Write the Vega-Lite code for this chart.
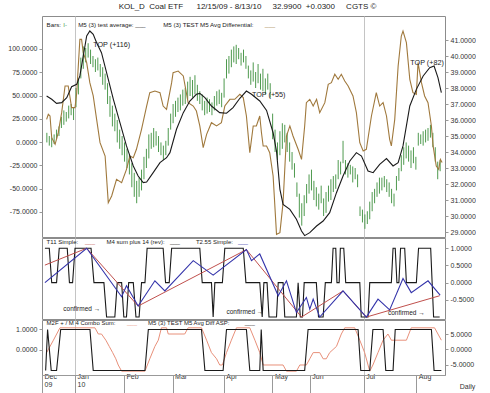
{
"$schema": "https://vega.github.io/schema/vega-lite/v6.json",
"padding": {"left": 7, "top": 2, "right": 0, "bottom": 0},
"background": "white",
"spacing": 1,
"bounds": "flush",
"title": {"text": "KOL_D\u00a0\u00a0Coal ETF\u00a0\u00a0\u00a0\u00a0\u00a0\u00a012/15/09 - 8/13/10\u00a0\u00a0\u00a0\u00a0\u00a032.9900\u00a0\u00a0+0.0300\u00a0\u00a0\u00a0\u00a0\u00a0CGTS ©", "fontSize": 8, "fontWeight": "normal", "font": "Liberation Sans", "color": "#222", "offset": 5, "anchor": "middle", "dx": 6},
"datasets": {
"bars": [
{"d":2,"l":34.6,"h":35.2},{"d":3,"l":34.4,"h":35.0},{"d":4,"l":34.3,"h":34.9},{"d":5,"l":34.5,"h":35.1},{"d":6,"l":34.8,"h":35.4},{"d":7,"l":35.0,"h":35.6},{"d":8,"l":35.5,"h":36.2},{"d":9,"l":35.7,"h":36.6},{"d":10,"l":35.9,"h":36.5},{"d":11,"l":36.1,"h":36.9},{"d":12,"l":36.3,"h":37.0},{"d":13,"l":36.0,"h":36.8},{"d":14,"l":36.8,"h":38.0},{"d":15,"l":37.6,"h":38.6},{"d":16,"l":38.6,"h":39.9},{"d":17,"l":39.2,"h":40.6},{"d":18,"l":39.6,"h":40.5},{"d":19,"l":39.9,"h":40.8},{"d":20,"l":39.5,"h":40.4},{"d":21,"l":39.3,"h":40.0},{"d":22,"l":39.0,"h":39.8},{"d":23,"l":39.1,"h":39.9},{"d":24,"l":38.7,"h":39.5},{"d":25,"l":38.2,"h":39.3},{"d":26,"l":37.9,"h":38.9},{"d":27,"l":37.0,"h":38.3},{"d":28,"l":36.2,"h":37.5},{"d":29,"l":35.6,"h":36.9},{"d":30,"l":35.3,"h":36.4},{"d":31,"l":34.6,"h":36.0},{"d":32,"l":34.2,"h":35.4},{"d":33,"l":33.8,"h":35.0},{"d":34,"l":33.4,"h":34.6},{"d":35,"l":33.0,"h":34.2},{"d":36,"l":32.6,"h":33.8},{"d":37,"l":31.8,"h":33.3},{"d":38,"l":31.2,"h":32.7},{"d":39,"l":30.8,"h":32.2},{"d":40,"l":31.2,"h":32.4},{"d":41,"l":31.6,"h":32.9},{"d":42,"l":32.3,"h":33.7},{"d":43,"l":33.0,"h":34.2},{"d":44,"l":33.6,"h":35.1},{"d":45,"l":34.2,"h":35.2},{"d":46,"l":34.3,"h":35.5},{"d":47,"l":34.4,"h":35.3},{"d":48,"l":34.0,"h":35.0},{"d":49,"l":33.8,"h":34.6},{"d":50,"l":33.5,"h":34.4},{"d":51,"l":33.8,"h":34.7},{"d":52,"l":34.4,"h":35.5},{"d":53,"l":35.4,"h":36.4},{"d":54,"l":35.8,"h":37.0},{"d":55,"l":36.2,"h":37.2},{"d":56,"l":36.5,"h":37.4},{"d":57,"l":36.6,"h":37.6},{"d":58,"l":36.9,"h":37.9},{"d":59,"l":37.0,"h":38.0},{"d":60,"l":37.3,"h":38.4},{"d":61,"l":37.5,"h":38.7},{"d":62,"l":37.4,"h":38.5},{"d":63,"l":37.6,"h":38.8},{"d":64,"l":37.2,"h":38.2},{"d":65,"l":37.0,"h":37.8},{"d":66,"l":36.6,"h":37.6},{"d":67,"l":36.3,"h":37.2},{"d":68,"l":36.4,"h":37.4},{"d":69,"l":36.5,"h":37.3},{"d":70,"l":36.3,"h":37.1},{"d":71,"l":36.6,"h":37.5},{"d":72,"l":36.9,"h":37.8},{"d":73,"l":37.0,"h":37.9},{"d":74,"l":36.8,"h":37.7},{"d":75,"l":37.4,"h":38.6},{"d":76,"l":38.6,"h":39.8},{"d":77,"l":38.9,"h":40.0},{"d":78,"l":39.3,"h":40.4},{"d":79,"l":39.6,"h":40.6},{"d":80,"l":39.5,"h":40.7},{"d":81,"l":39.8,"h":40.5},{"d":82,"l":39.4,"h":40.2},{"d":83,"l":39.6,"h":40.4},{"d":84,"l":39.2,"h":40.0},{"d":85,"l":38.6,"h":39.4},{"d":86,"l":38.2,"h":39.1},{"d":87,"l":38.4,"h":39.6},{"d":88,"l":38.0,"h":39.0},{"d":89,"l":38.3,"h":39.5},{"d":90,"l":37.9,"h":38.9},{"d":91,"l":37.8,"h":39.2},{"d":92,"l":37.6,"h":38.6},{"d":93,"l":37.9,"h":38.9},{"d":94,"l":37.4,"h":38.3},{"d":95,"l":34.8,"h":36.4},{"d":96,"l":34.0,"h":35.4},{"d":97,"l":33.5,"h":34.6},{"d":98,"l":33.8,"h":35.3},{"d":99,"l":34.2,"h":35.8},{"d":100,"l":34.6,"h":35.7},{"d":101,"l":34.0,"h":35.2},{"d":102,"l":33.4,"h":34.6},{"d":103,"l":32.9,"h":34.0},{"d":104,"l":32.4,"h":33.3},{"d":105,"l":31.2,"h":32.1},{"d":106,"l":29.9,"h":31.4},{"d":107,"l":29.4,"h":30.8},{"d":108,"l":30.0,"h":31.3},{"d":109,"l":30.8,"h":32.0},{"d":110,"l":31.4,"h":32.6},{"d":111,"l":31.6,"h":32.9},{"d":112,"l":31.0,"h":32.2},{"d":113,"l":30.6,"h":31.8},{"d":114,"l":30.4,"h":31.4},{"d":115,"l":30.8,"h":31.9},{"d":116,"l":30.0,"h":31.1},{"d":117,"l":30.2,"h":31.5},{"d":118,"l":30.9,"h":31.9},{"d":119,"l":31.0,"h":32.3},{"d":120,"l":31.5,"h":32.5},{"d":121,"l":31.7,"h":32.6},{"d":122,"l":32.3,"h":33.5},{"d":123,"l":32.6,"h":33.4},{"d":124,"l":33.3,"h":34.7},{"d":125,"l":32.6,"h":33.5},{"d":126,"l":32.4,"h":33.3},{"d":127,"l":32.6,"h":33.2},{"d":128,"l":32.1,"h":33.1},{"d":129,"l":32.3,"h":33.0},{"d":130,"l":31.8,"h":32.6},{"d":131,"l":30.0,"h":30.6},{"d":132,"l":29.6,"h":30.4},{"d":133,"l":29.2,"h":30.1},{"d":134,"l":29.5,"h":30.3},{"d":135,"l":29.8,"h":30.9},{"d":136,"l":30.3,"h":31.5},{"d":137,"l":30.8,"h":31.7},{"d":138,"l":31.2,"h":32.1},{"d":139,"l":31.4,"h":32.4},{"d":140,"l":31.6,"h":32.4},{"d":141,"l":31.8,"h":32.5},{"d":142,"l":31.5,"h":32.3},{"d":143,"l":31.2,"h":32.1},{"d":144,"l":30.8,"h":31.7},{"d":145,"l":30.6,"h":31.4},{"d":146,"l":31.6,"h":32.5},{"d":147,"l":32.2,"h":33.0},{"d":148,"l":32.8,"h":33.8},{"d":149,"l":33.2,"h":34.3},{"d":150,"l":33.6,"h":34.6},{"d":151,"l":33.4,"h":34.4},{"d":152,"l":33.0,"h":34.1},{"d":153,"l":33.3,"h":34.3},{"d":154,"l":32.9,"h":33.7},{"d":155,"l":34.4,"h":35.2},{"d":156,"l":34.5,"h":35.1},{"d":157,"l":34.4,"h":35.3},{"d":158,"l":34.6,"h":35.4},{"d":159,"l":34.7,"h":35.5},{"d":160,"l":34.9,"h":35.7},{"d":161,"l":34.3,"h":35.2},{"d":162,"l":33.4,"h":34.3},{"d":163,"l":32.3,"h":33.4},{"d":164,"l":32.8,"h":33.5}
],
"grid1": [{"p":29},{"p":29.5},{"p":30},{"p":30.5},{"p":31},{"p":31.5},{"p":32},{"p":32.5},{"p":33},{"p":33.5},{"p":34},{"p":34.5},{"p":35},{"p":35.5},{"p":36},{"p":36.5},{"p":37},{"p":37.5},{"p":38},{"p":38.5},{"p":39},{"p":39.5},{"p":40},{"p":40.5},{"p":41},{"p":41.5},{"p":42}],
"grid2": [{"p":-1},{"p":-0.875},{"p":-0.75},{"p":-0.625},{"p":-0.5},{"p":-0.375},{"p":-0.25},{"p":-0.125},{"p":0},{"p":0.125},{"p":0.25},{"p":0.375},{"p":0.5},{"p":0.625},{"p":0.75},{"p":0.875},{"p":1},{"p":1.125},{"p":1.25}],
"grid3": [{"p":-7.5},{"p":-5},{"p":-2.5},{"p":0},{"p":2.5},{"p":5},{"p":7.5}],
"avg": [
{"d":1.9,"v":49.5},{"d":4,"v":45.9},{"d":6,"v":41.6},{"d":8.1,"v":42.3},{"d":10.2,"v":47.7},{"d":12.2,"v":59.5},{"d":14.3,"v":62},{"d":15.6,"v":71},{"d":17,"v":92.4},{"d":18.4,"v":113.9},{"d":19.7,"v":119.3},{"d":21.1,"v":115.7},{"d":22.5,"v":106.7},{"d":24.5,"v":96},{"d":26.6,"v":74.5},{"d":29.4,"v":45.9},{"d":32.1,"v":20.8},{"d":34.8,"v":-4.2},{"d":37.6,"v":-25.7},{"d":39.6,"v":-36.5},{"d":41.7,"v":-43.6},{"d":43.1,"v":-42.9},{"d":45.8,"v":-32.9},{"d":48.6,"v":-22.1},{"d":51.3,"v":-16.8},{"d":52.7,"v":-11.4},{"d":55.4,"v":13.7},{"d":58.2,"v":31.6},{"d":60.9,"v":44.1},{"d":63.6,"v":51.3},{"d":65,"v":52.3},{"d":67.1,"v":47.7},{"d":69.8,"v":38.7},{"d":73.2,"v":31.6},{"d":76,"v":30.9},{"d":78.7,"v":36.9},{"d":81.5,"v":47},{"d":84.2,"v":54.8},{"d":86.3,"v":51.3},{"d":89.7,"v":44.1},{"d":92.5,"v":34},{"d":95.2,"v":10},{"d":96.6,"v":-10},{"d":98,"v":-50.8},{"d":99.3,"v":-66.9},{"d":102.1,"v":-72.3},{"d":104.8,"v":-83},{"d":106.9,"v":-95.5},{"d":108.2,"v":-100.5},{"d":110.3,"v":-97.3},{"d":113.1,"v":-90.2},{"d":115.8,"v":-84.8},{"d":118.5,"v":-75.8},{"d":121.3,"v":-54.4},{"d":124,"v":-36.5},{"d":126.8,"v":-20.3},{"d":129.5,"v":-11.4},{"d":131.6,"v":-15},{"d":134.3,"v":-31.1},{"d":136.4,"v":-32.9},{"d":139.1,"v":-23.9},{"d":141.9,"v":-17.8},{"d":144.6,"v":-25.7},{"d":146.7,"v":-22.1},{"d":148.7,"v":-4.2},{"d":151.5,"v":38.7},{"d":154.2,"v":56.6},{"d":157,"v":71},{"d":159.7,"v":79.9},{"d":161.5,"v":81.7},{"d":163.1,"v":69.2},{"d":164.5,"v":53.1}
],
"diff": [
{"d":1.9,"v":24.4},{"d":2.6,"v":29.8},{"d":3.3,"v":28},{"d":4,"v":4.7},{"d":5.4,"v":-2.4},{"d":6.7,"v":10.1},{"d":8.1,"v":31.6},{"d":9.5,"v":60.2},{"d":10.8,"v":60.2},{"d":12.2,"v":37},{"d":13.6,"v":37},{"d":14.3,"v":53},{"d":15.6,"v":110.3},{"d":16.3,"v":110.3},{"d":17,"v":96},{"d":18.4,"v":85.3},{"d":19.7,"v":63.8},{"d":21.1,"v":49.5},{"d":22.5,"v":24.4},{"d":23.9,"v":-0.7},{"d":26,"v":-15},{"d":27.3,"v":-65.1},{"d":28.7,"v":-57.9},{"d":30.7,"v":-40},{"d":32.8,"v":-43.6},{"d":34.8,"v":-29.3},{"d":36.2,"v":-15},{"d":37.6,"v":-16.8},{"d":38.9,"v":-7.8},{"d":41,"v":13.7},{"d":43.1,"v":38.7},{"d":44.4,"v":53},{"d":46.5,"v":54.8},{"d":48.6,"v":53},{"d":49.9,"v":38.7},{"d":51.3,"v":35.1},{"d":53.4,"v":63.8},{"d":54,"v":74.5},{"d":56.1,"v":76.3},{"d":58.2,"v":71},{"d":60.2,"v":42.3},{"d":62.3,"v":38.7},{"d":63.6,"v":33.3},{"d":65,"v":17.3},{"d":66.4,"v":-6},{"d":67.8,"v":8.3},{"d":69.8,"v":20.8},{"d":71.9,"v":17.3},{"d":73.9,"v":20.8},{"d":75.3,"v":38.7},{"d":77.4,"v":45.9},{"d":79.4,"v":45.9},{"d":81.5,"v":51.3},{"d":82.9,"v":47.7},{"d":84.2,"v":28},{"d":85.6,"v":-11.4},{"d":87,"v":17.3},{"d":88.3,"v":17.3},{"d":89.7,"v":28},{"d":90.4,"v":10},{"d":91.1,"v":-4.2},{"d":92.5,"v":-4.2},{"d":93.8,"v":-11.4},{"d":95.2,"v":-36.5},{"d":96.6,"v":-99.1},{"d":98,"v":-97.3},{"d":99.3,"v":-65.1},{"d":100.7,"v":6.5},{"d":102.1,"v":17.3},{"d":103.4,"v":6.5},{"d":105.5,"v":-7.8},{"d":106.9,"v":-18.6},{"d":108.2,"v":17.3},{"d":108.9,"v":42.3},{"d":110.3,"v":45.9},{"d":111.7,"v":38.7},{"d":113.1,"v":45.9},{"d":114.4,"v":31.6},{"d":116.5,"v":42.3},{"d":117.9,"v":62},{"d":119.2,"v":63.8},{"d":120.6,"v":72.8},{"d":122,"v":67.4},{"d":123.3,"v":72.8},{"d":124.7,"v":65.6},{"d":126.1,"v":60.2},{"d":128.1,"v":49.5},{"d":129.5,"v":31.6},{"d":130.9,"v":-0.7},{"d":132.3,"v":-9.6},{"d":133.6,"v":-7.8},{"d":135.7,"v":28},{"d":137.7,"v":53},{"d":139.1,"v":38.7},{"d":140.5,"v":42.3},{"d":141.9,"v":28},{"d":143.2,"v":2.9},{"d":143.9,"v":-4.2},{"d":145.3,"v":24.4},{"d":146.7,"v":81.7},{"d":148,"v":113.9},{"d":148.7,"v":119.3},{"d":150.1,"v":106.7},{"d":151.5,"v":67.4},{"d":152.8,"v":53},{"d":154.2,"v":51.3},{"d":154.9,"v":85.3},{"d":156.3,"v":63.8},{"d":157.6,"v":49.5},{"d":159,"v":42.3},{"d":160.4,"v":17.3},{"d":161.1,"v":-4.2},{"d":162.4,"v":-25.7},{"d":163.4,"v":-29.3},{"d":164.1,"v":-18.6},{"d":164.8,"v":-22.1}
],
"t11": [
{"d":1.2,"v":0.51},{"d":18.4,"v":1.0},{"d":39.6,"v":-0.68},{"d":84.2,"v":0.96},{"d":106.9,"v":-1.0},{"d":124,"v":-0.24},{"d":133.6,"v":-1.0},{"d":163.8,"v":-0.38}
],
"t255": [
{"d":1.2,"v":0.0},{"d":18.4,"v":1.0},{"d":32.8,"v":-0.41},{"d":34.8,"v":-0.09},{"d":39.6,"v":-0.68},{"d":46.5,"v":0.055},{"d":50.6,"v":-0.24},{"d":62.3,"v":0.64},{"d":70.5,"v":0.22},{"d":84.2,"v":0.96},{"d":86.3,"v":0.64},{"d":89.7,"v":0.835},{"d":97.3,"v":-0.38},{"d":100.7,"v":0.055},{"d":104.8,"v":-0.87},{"d":108.9,"v":-0.43},{"d":110.3,"v":-0.77},{"d":111.7,"v":-0.48},{"d":114.4,"v":-1.0},{"d":124,"v":-0.24},{"d":133.6,"v":-1.0},{"d":138.4,"v":-0.48},{"d":143.2,"v":-0.79},{"d":148.7,"v":0.12},{"d":152.1,"v":-0.29},{"d":159,"v":0.055},{"d":164,"v":-0.36}
],
"m4": [
{"d":1.2,"v":1},{"d":3,"v":1},{"d":4,"v":0},{"d":6,"v":0},{"d":7.1,"v":1},{"d":10.4,"v":1},{"d":11.3,"v":0},{"d":12.6,"v":0},{"d":13.6,"v":1},{"d":20.2,"v":1},{"d":21.4,"v":0},{"d":25.5,"v":0},{"d":26.6,"v":-1},{"d":30,"v":-1},{"d":31,"v":0},{"d":32.8,"v":0},{"d":33.7,"v":-1},{"d":34.8,"v":-1},{"d":35.7,"v":0},{"d":37.6,"v":0},{"d":38.7,"v":-1},{"d":40,"v":-1},{"d":41,"v":0},{"d":42.4,"v":0},{"d":43.3,"v":1},{"d":49.9,"v":1},{"d":50.9,"v":0},{"d":52.4,"v":0},{"d":53.4,"v":1},{"d":65,"v":1},{"d":66,"v":0},{"d":69.8,"v":0},{"d":70.5,"v":-1},{"d":71.2,"v":0},{"d":74.3,"v":0},{"d":75.3,"v":1},{"d":82.9,"v":1},{"d":84,"v":0},{"d":89.7,"v":0},{"d":90.7,"v":-1},{"d":91.4,"v":0},{"d":92.7,"v":0},{"d":93.5,"v":-1},{"d":96.6,"v":-1},{"d":97.3,"v":0},{"d":99.3,"v":0},{"d":100,"v":-1},{"d":104.8,"v":-1},{"d":105.5,"v":0},{"d":106.4,"v":-1},{"d":107.3,"v":-1},{"d":108,"v":0},{"d":113,"v":0},{"d":113.9,"v":-1},{"d":115.8,"v":-1},{"d":116.7,"v":0},{"d":119.2,"v":0},{"d":119.9,"v":1},{"d":121,"v":1},{"d":121.5,"v":0},{"d":122.4,"v":0},{"d":122.9,"v":1},{"d":124.3,"v":1},{"d":125.1,"v":0},{"d":130.9,"v":0},{"d":131.5,"v":-1},{"d":134.3,"v":-1},{"d":135,"v":0},{"d":143.9,"v":0},{"d":144.6,"v":1},{"d":145.5,"v":1},{"d":146.2,"v":0},{"d":147,"v":0},{"d":147.7,"v":1},{"d":149.4,"v":1},{"d":150.1,"v":0},{"d":154.2,"v":0},{"d":155.1,"v":1},{"d":160.1,"v":1},{"d":161.3,"v":-1},{"d":163.8,"v":-1}
],
"combo": [
{"d":1.9,"v":-1},{"d":4.7,"v":3},{"d":7.4,"v":7},{"d":21.8,"v":7},{"d":23.2,"v":5},{"d":24.5,"v":5},{"d":26.3,"v":3},{"d":27.7,"v":1},{"d":29.1,"v":-1},{"d":30.4,"v":-3},{"d":31.4,"v":-5},{"d":32.8,"v":-7},{"d":42.4,"v":-7},{"d":44.4,"v":-3},{"d":46.5,"v":1},{"d":47.9,"v":3},{"d":49.2,"v":7},{"d":51.3,"v":7},{"d":52,"v":5},{"d":58.8,"v":5},{"d":60.2,"v":7},{"d":65.7,"v":7},{"d":67.8,"v":3},{"d":69.8,"v":-1},{"d":71.9,"v":-3},{"d":73.2,"v":-5},{"d":74.3,"v":-5},{"d":76,"v":-1},{"d":78,"v":3},{"d":80.1,"v":7},{"d":85.6,"v":7},{"d":87.7,"v":3},{"d":89.7,"v":-1},{"d":91.1,"v":-5},{"d":99.3,"v":-5},{"d":100.7,"v":-7},{"d":104.8,"v":-7},{"d":106.2,"v":-5},{"d":108.9,"v":-5},{"d":110.3,"v":-3},{"d":111.7,"v":-1},{"d":114.4,"v":-1},{"d":115.8,"v":-3},{"d":117.1,"v":-3},{"d":118.5,"v":-1},{"d":121.3,"v":1},{"d":123.3,"v":5},{"d":124.7,"v":7},{"d":128.8,"v":7},{"d":130.9,"v":3},{"d":132.9,"v":-1},{"d":135,"v":-7},{"d":136.3,"v":-5},{"d":138.4,"v":-1},{"d":140.5,"v":3},{"d":142.5,"v":5},{"d":143.9,"v":3},{"d":150.1,"v":3},{"d":152.1,"v":7},{"d":161.7,"v":7},{"d":164.5,"v":3}
],
"asp": [
{"d":1.5,"v":-1},{"d":2.3,"v":1},{"d":3.8,"v":-1},{"d":6,"v":-1},{"d":7.7,"v":1},{"d":19.75,"v":1},{"d":21.1,"v":-1},{"d":42.4,"v":-1},{"d":43.8,"v":1},{"d":65.7,"v":1},{"d":67.1,"v":-1},{"d":74.6,"v":-1},{"d":76,"v":1},{"d":84.2,"v":1},{"d":85.6,"v":-1},{"d":89.7,"v":-1},{"d":90.3,"v":1},{"d":91.1,"v":-1},{"d":108.2,"v":-1},{"d":109.6,"v":1},{"d":130.2,"v":1},{"d":131.3,"v":-1},{"d":135,"v":-1},{"d":136.3,"v":1},{"d":140.5,"v":1},{"d":141.6,"v":-1},{"d":144.6,"v":-1},{"d":145.5,"v":1},{"d":160.4,"v":1},{"d":161.5,"v":-1},{"d":164.5,"v":-1}
],
"leg1": [
{"d":1.9,"v":125.4,"t":"Bars:","k":"txt"},{"d":8.8,"v":125.4,"t":"I-","k":"green"},{"d":14.9,"v":125.4,"t":"M5 (3) test average:","k":"txt"},{"d":38.4,"v":125.4,"t":"___","k":"txt"},{"d":49.9,"v":125.4,"t":"M5 (3) TEST M5 Avg Differential:","k":"txt"},{"d":91.8,"v":125.4,"t":"___","k":"brown"}
],
"top1": [
{"d":21.1,"v":104.3,"t":"TOP (+116)"},{"d":86.5,"v":50.5,"t":"TOP (+55)"},{"d":151.7,"v":84.6,"t":"TOP (+82)"}
],
"leg2": [
{"d":1.9,"v":1.195,"t":"T11 Simple:","k":"txt"},{"d":17.7,"v":1.195,"t":"___","k":"red"},{"d":26.6,"v":1.195,"t":"M4 sum plus 14 (rev):","k":"txt"},{"d":52.7,"v":1.195,"t":"___","k":"txt"},{"d":63.4,"v":1.195,"t":"T2.55 Simple:","k":"txt"},{"d":80.7,"v":1.195,"t":"___","k":"blue"}
],
"conf": [
{"d":8.8,"v":-0.754,"t":"confirmed →"},{"d":76,"v":-0.85,"t":"confirmed →"},{"d":142.5,"v":-0.89,"t":"confirmed →"}
],
"leg3": [
{"d":1.9,"v":1.3,"t":"M2F + / M 4 Combo Sum:","k":"txt"},{"d":35,"v":1.3,"t":"___","k":"pink"},{"d":43.7,"v":1.3,"t":"M5 (3) TEST M5 Avg Diff ASP:","k":"txt"},{"d":83.5,"v":1.3,"t":"___","k":"txt"}
]
},
"vconcat": [
{
"width": 403, "height": 221,
"encoding": {"x": {"field": "d", "type": "quantitative", "scale": {"domain": [0, 166], "nice": false, "zero": false}, "axis": {"values": [13.6, 132.5], "tickCount": 100, "grid": true, "gridColor": "#c4c4c4", "labels": false, "ticks": false, "domain": false, "title": null}}},
"layer": [
{"layer": [
 {"data": {"name": "grid1"}, "mark": {"type": "rule", "color": "#ececec", "strokeWidth": 1},
  "encoding": {"y": {"field": "p", "type": "quantitative", "title": null, "scale": {"domain": [28.69, 42.5], "nice": false, "zero": false},
   "axis": {"orient": "right", "values": [29,30,31,32,33,34,35,36,37,38,39,40,41], "tickCount": 100, "format": ".4f", "grid": false, "tickSize": 3, "labelPadding": 2, "title": null}}}},
 {"data": {"name": "bars"}, "mark": {"type": "rule", "color": "#4f9a4f", "strokeWidth": 1},
  "encoding": {"y": {"field": "l", "type": "quantitative", "title": null, "scale": {"domain": [28.69, 42.5], "nice": false, "zero": false}}, "y2": {"field": "h"}}}
]},
{"layer": [
 {"data": {"name": "diff"}, "mark": {"type": "line", "color": "#a0793d", "strokeWidth": 1.1},
  "encoding": {"y": {"field": "v", "type": "quantitative", "title": null, "scale": {"domain": [-102, 135.4], "nice": false, "zero": false},
   "axis": {"orient": "left", "values": [-75,-50,-25,0,25,50,75,100], "tickCount": 100, "format": ".4f", "grid": false, "tickSize": 3, "labelPadding": 2, "title": null}}}},
 {"data": {"name": "avg"}, "mark": {"type": "line", "color": "#1a1a1a", "strokeWidth": 1.1},
  "encoding": {"y": {"field": "v", "type": "quantitative", "title": null, "scale": {"domain": [-102, 135.4], "nice": false, "zero": false}}}},
 {"data": {"name": "leg1"}, "mark": {"type": "text", "align": "left", "baseline": "middle", "fontSize": 6.2},
  "encoding": {"y": {"field": "v", "type": "quantitative", "title": null, "scale": {"domain": [-102, 135.4], "nice": false, "zero": false}}, "text": {"field": "t"},
   "color": {"field": "k", "type": "nominal", "legend": null, "scale": {"domain": ["txt","green","brown","red","blue","pink"], "range": ["#222222","#4f9a4f","#a0793d","#c0504d","#3333aa","#e8907a"]}}}},
 {"data": {"name": "top1"}, "mark": {"type": "text", "align": "left", "baseline": "middle", "fontSize": 7.2, "color": "#222"},
  "encoding": {"y": {"field": "v", "type": "quantitative", "title": null, "scale": {"domain": [-102, 135.4], "nice": false, "zero": false}}, "text": {"field": "t"}}}
]}
],
"resolve": {"scale": {"y": "independent"}}
},
{
"width": 403, "height": 81,
"encoding": {"x": {"field": "d", "type": "quantitative", "scale": {"domain": [0, 166], "nice": false, "zero": false}, "axis": {"values": [13.6, 132.5], "tickCount": 100, "grid": true, "gridColor": "#c4c4c4", "labels": false, "ticks": false, "domain": false, "title": null}}},
"layer": [
 {"data": {"name": "grid2"}, "mark": {"type": "rule", "color": "#f0f0f0", "strokeWidth": 1},
  "encoding": {"y": {"field": "p", "type": "quantitative", "title": null, "scale": {"domain": [-1.056, 1.298], "nice": false, "zero": false},
   "axis": {"orient": "right", "values": [1, 0.5, 0, -0.5], "tickCount": 100, "format": ".4f", "grid": false, "tickSize": 3, "labelPadding": 2, "title": null}}}},
 {"data": {"name": "m4"}, "mark": {"type": "line", "color": "#1a1a1a", "strokeWidth": 1.1},
  "encoding": {"y": {"field": "v", "type": "quantitative", "title": null, "scale": {"domain": [-1.056, 1.298], "nice": false, "zero": false}}}},
 {"data": {"name": "t11"}, "mark": {"type": "line", "color": "#c0504d", "strokeWidth": 1},
  "encoding": {"y": {"field": "v", "type": "quantitative", "title": null, "scale": {"domain": [-1.056, 1.298], "nice": false, "zero": false}}}},
 {"data": {"name": "t255"}, "mark": {"type": "line", "color": "#3333aa", "strokeWidth": 1.1},
  "encoding": {"y": {"field": "v", "type": "quantitative", "title": null, "scale": {"domain": [-1.056, 1.298], "nice": false, "zero": false}}}},
 {"data": {"name": "leg2"}, "mark": {"type": "text", "align": "left", "baseline": "middle", "fontSize": 6},
  "encoding": {"y": {"field": "v", "type": "quantitative", "title": null, "scale": {"domain": [-1.056, 1.298], "nice": false, "zero": false}}, "text": {"field": "t"},
   "color": {"field": "k", "type": "nominal", "legend": null, "scale": {"domain": ["txt","green","brown","red","blue","pink"], "range": ["#222222","#4f9a4f","#a0793d","#c0504d","#3333aa","#e8907a"]}}}},
 {"data": {"name": "conf"}, "mark": {"type": "text", "align": "left", "baseline": "middle", "fontSize": 6.5, "color": "#222"},
  "encoding": {"y": {"field": "v", "type": "quantitative", "title": null, "scale": {"domain": [-1.056, 1.298], "nice": false, "zero": false}}, "text": {"field": "t"}}}
]
},
{
"width": 403, "height": 55,
"encoding": {"x": {"field": "d", "type": "quantitative", "scale": {"domain": [0, 166], "nice": false, "zero": false},
  "axis": {"values": [0, 13.6, 33.8, 53.8, 74.9, 94.9, 110.3, 132.5, 154.2], "tickCount": 100, "grid": true, "gridColor": "#c4c4c4",
   "gridOpacity": {"condition": {"test": "datum.value == 13.6 || datum.value == 132.5", "value": 1}, "value": 0},
   "labelExpr": "datum.value < 1 ? ['Dec', '09'] : datum.value < 20 ? ['Jan', '10'] : datum.value < 40 ? 'Feb' : datum.value < 60 ? 'Mar' : datum.value < 80 ? 'Apr' : datum.value < 100 ? 'May' : datum.value < 120 ? 'Jun' : datum.value < 140 ? 'Jul' : 'Aug'",
   "labelAlign": "left", "labelBaseline": "top", "labelPadding": -21, "labelOffset": 2, "labelLineHeight": 8, "labelFlush": false, "labelOverlap": false,
   "tickSize": 18, "tickColor": "#999", "domain": true, "domainColor": "#999",
   "title": "Daily", "titleX": 425, "titleY": 11, "titleAlign": "center", "titleBaseline": "middle", "titleFontWeight": "normal", "titleFontSize": 7, "titleColor": "#333"}}},
"layer": [
 {"layer": [
  {"data": {"name": "grid3"}, "mark": {"type": "rule", "color": "#f0f0f0", "strokeWidth": 1},
   "encoding": {"y": {"field": "p", "type": "quantitative", "title": null, "scale": {"domain": [-8.23, 9.52], "nice": false, "zero": false},
    "axis": {"orient": "right", "values": [5, 0, -5], "tickCount": 100, "format": ".4f", "grid": false, "tickSize": 3, "labelPadding": 2, "title": null}}}},
  {"data": {"name": "combo"}, "mark": {"type": "line", "color": "#e8907a", "strokeWidth": 1},
   "encoding": {"y": {"field": "v", "type": "quantitative", "title": null, "scale": {"domain": [-8.23, 9.52], "nice": false, "zero": false}}}}
 ]},
 {"layer": [
  {"data": {"name": "asp"}, "mark": {"type": "line", "color": "#1a1a1a", "strokeWidth": 1.1},
   "encoding": {"y": {"field": "v", "type": "quantitative", "title": null, "scale": {"domain": [-1.22, 1.463], "nice": false, "zero": false},
    "axis": {"orient": "left", "values": [1, 0], "tickCount": 100, "format": ".4f", "grid": false, "tickSize": 3, "labelPadding": 2, "title": null}}}},
  {"data": {"name": "leg3"}, "mark": {"type": "text", "align": "left", "baseline": "middle", "fontSize": 6},
   "encoding": {"y": {"field": "v", "type": "quantitative", "title": null, "scale": {"domain": [-1.22, 1.463], "nice": false, "zero": false}}, "text": {"field": "t"},
    "color": {"field": "k", "type": "nominal", "legend": null, "scale": {"domain": ["txt","green","brown","red","blue","pink"], "range": ["#222222","#4f9a4f","#a0793d","#c0504d","#3333aa","#e8907a"]}}}}
 ]}
],
"resolve": {"scale": {"y": "independent"}}
}
],
"config": {
 "font": "Liberation Sans",
 "locale": {"number": {"decimal": ".", "thousands": ",", "grouping": [3], "currency": ["$", ""], "minus": "-"}},
 "view": {"stroke": "#8c8c8c", "strokeWidth": 1},
 "axis": {"labelFont": "Liberation Sans", "labelFontSize": 7, "labelColor": "#333", "tickColor": "#999", "domain": false, "titleFont": "Liberation Sans", "labelOverlap": false, "labelBound": false},
 "text": {"font": "Liberation Sans"},
 "title": {"font": "Liberation Sans"}
}
}
